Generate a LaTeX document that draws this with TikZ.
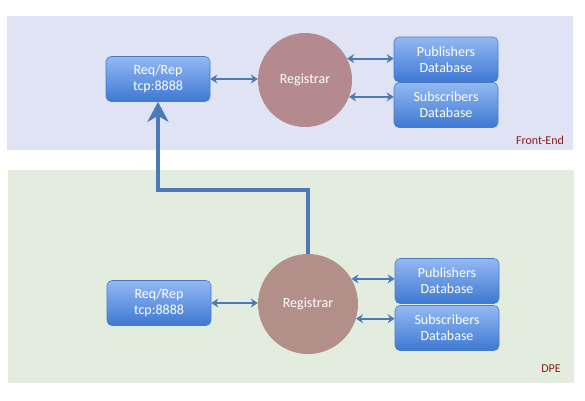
\documentclass[tikz,border=0pt]{standalone}
\usepackage{fontspec}
\setmainfont{Carlito}
\usepackage{xcolor}
\usetikzlibrary{shapes,backgrounds,calc,arrows.meta}

\definecolor{frontfill}{HTML}{DFE3F4}
\definecolor{dpefill}{HTML}{E2EDE0}
\definecolor{boxtop}{HTML}{93B9F3}
\definecolor{boxbottom}{HTML}{3E78D2}
\definecolor{boxline}{HTML}{4A7CC4}
\definecolor{regfill}{HTML}{B48A8E}
\definecolor{regfilltwo}{HTML}{B28F88}
\definecolor{linkcolor}{HTML}{4C7AB6}
\definecolor{tagcolor}{HTML}{8A1C1C}

\begin{document}
\begin{tikzpicture}[x=1pt,y=-1pt]
        % Define the styles for boxes, registrars and links
        \tikzstyle{servicebox}=[draw=boxline, line width=0.6pt, rounded corners=5pt, top color=boxtop, bottom color=boxbottom, text=white, font=\fontsize{14}{16}\selectfont, align=center, minimum width=104pt, minimum height=45pt, inner sep=0pt];
        \tikzstyle{registrar}=[circle, text=white, font=\fontsize{14}{16}\selectfont, inner sep=0pt];
        \tikzstyle{link}=[draw=linkcolor, line width=2pt, {Stealth[length=7pt,width=9pt]}-{Stealth[length=7pt,width=9pt]}];
        \tikzstyle{uplink}=[draw=linkcolor, line width=4pt, -{Stealth[length=20pt,width=21pt,inset=6pt]}];
        \tikzstyle{paneltag}=[text=tagcolor, font=\fontsize{12}{14}\selectfont];

        \useasboundingbox (0,0) rectangle (585,400);

        % Draw the two panels
        \fill[frontfill] (7,16) rectangle (573,150);
        \fill[dpefill] (8,170) rectangle (574,383);
        \node[paneltag] (fronttag) at (540,140) {Front-End};
        \node[paneltag] (dpetag) at (551,369) {DPE};

        % Front-End nodes
        \node[servicebox] (reqfront) at (158,79) {Req/Rep\\tcp:8888};
        \node[registrar, fill=regfill, minimum size=94pt] (regfront) at (305,80) {Registrar};
        \node[servicebox] (pubfront) at (446,59.5) {Publishers\\Database};
        \node[servicebox] (subfront) at (446,105) {Subscribers\\Database};

        % DPE nodes
        \node[servicebox] (reqdpe) at (159,303) {Req/Rep\\tcp:8888};
        \node[registrar, fill=regfilltwo, minimum size=100pt] (regdpe) at (308,304) {Registrar};
        \node[servicebox] (pubdpe) at (447,281) {Publishers\\Database};
        \node[servicebox] (subdpe) at (447,328) {Subscribers\\Database};

        % Links inside each panel
        \draw[link] (reqfront.east) -- (regfront.west |- reqfront.east);
        \draw[link] (regfront.27) -- (regfront.27 -| pubfront.west);
        \draw[link] (regfront.-21) -- (regfront.-21 -| subfront.west);
        \draw[link] (reqdpe.east) -- (regdpe.west |- reqdpe.east);
        \draw[link] (regdpe.30) -- (regdpe.30 -| pubdpe.west);
        \draw[link] (regdpe.-17) -- (regdpe.-17 -| subdpe.west);

        % Registration path from the DPE up to the Front-End
        \coordinate (turn) at (0,190);
        \draw[uplink] (regdpe.north) -- (regdpe.north |- turn) -| (reqfront.south);
    \end{tikzpicture}
\end{document}
